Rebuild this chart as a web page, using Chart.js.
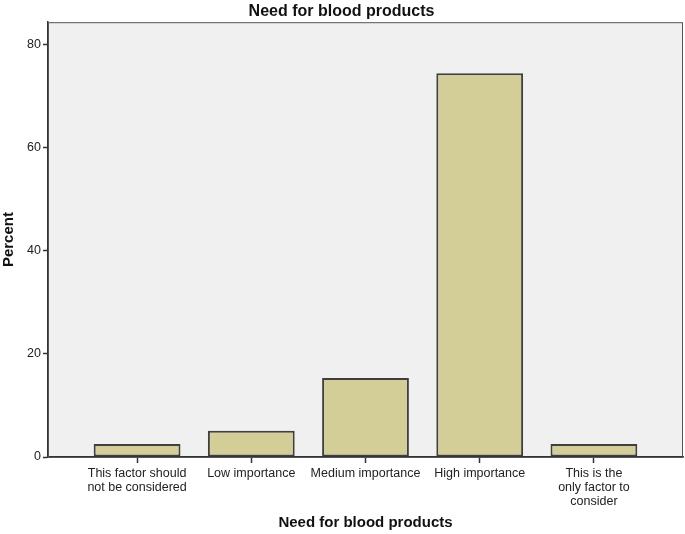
<!DOCTYPE html>
<html>
<head>
<meta charset="utf-8">
<script src="https://cdn.jsdelivr.net/npm/chart.js@4.4.1/dist/chart.umd.min.js"></script>
<style>
  html, body { margin: 0; padding: 0; background: #fff; }
  #wrap { width: 685px; height: 534px; }
</style>
</head>
<body>
<div id="wrap"><canvas id="chart" width="685" height="534"></canvas></div>
<script>
const categories = [
  ["This factor should", "not be considered"],
  ["Low importance"],
  ["Medium importance"],
  ["High importance"],
  ["This is the", "only factor to", "consider"],
];
const percents = [2.5, 5.1, 15.3, 74.4, 2.5];
const yTicks = [0, 20, 40, 60, 80];

// grey plot background and frame, like the SPSS output
const plotFrame = {
  id: "plotFrame",
  beforeDraw(chart) {
    const { ctx, chartArea: a } = chart;
    ctx.save();
    ctx.fillStyle = "#f0f0f0";
    ctx.fillRect(a.left, a.top, a.right - a.left, a.bottom - a.top);
    ctx.restore();
  },
  afterDraw(chart) {
    const { ctx, chartArea: a } = chart;
    ctx.save();
    ctx.strokeStyle = "#555";
    ctx.lineWidth = 1;
    ctx.strokeRect(a.left + 0.5, a.top + 0.5, a.right - a.left - 1, a.bottom - a.top);
    ctx.restore();
  },
};

const font = "'Liberation Sans', Arial, sans-serif";

new Chart(document.getElementById("chart"), {
  type: "bar",
  data: {
    datasets: [
      {
        label: "Percent",
        data: percents.map((v, i) => ({ x: i, y: v })),
        backgroundColor: "#d3ce97",
        borderColor: "#3f3f3f",
        borderWidth: 2,
        borderSkipped: false,
        barPercentage: 0.76,
        categoryPercentage: 1,
      },
    ],
  },
  options: {
    responsive: false,
    animation: false,
    layout: { padding: { right: 2, left: 0, top: 0, bottom: 0 } },
    plugins: {
      legend: { display: false },
      tooltip: { enabled: false },
      title: {
        display: true,
        text: "Need for blood products",
        color: "#111",
        font: { family: font, size: 16, weight: "bold" },
        padding: { top: 2, bottom: 1 },
      },
    },
    scales: {
      x: {
        type: "linear",
        offset: false,
        min: -0.78,
        max: 4.78,
        afterBuildTicks(scale) {
          scale.ticks = categories.map((c, i) => ({ value: i }));
        },
        afterFit(scale) {
          scale.height = 77;
        },
        ticks: {
          autoSkip: false,
          maxRotation: 0,
          padding: 3,
          color: "#222",
          font: { family: font, size: 12.5, lineHeight: 1.15 },
          callback: (v) => categories[v],
        },
        grid: {
          offset: false,
          drawOnChartArea: false,
          drawTicks: true,
          tickLength: 6,
          tickWidth: 1.5,
          color: "#333",
        },
        border: { color: "#333", width: 1.5 },
        title: {
          display: true,
          text: "Need for blood products",
          color: "#111",
          font: { family: font, size: 15, weight: "bold" },
          padding: { top: 0, bottom: 2 },
        },
      },
      y: {
        min: 0,
        max: 84.3,
        afterBuildTicks(scale) {
          scale.ticks = yTicks.map((v) => ({ value: v }));
        },
        afterFit(scale) {
          scale.width = 48;
        },
        ticks: {
          padding: 2,
          color: "#222",
          font: { family: font, size: 12.5 },
        },
        grid: {
          drawOnChartArea: false,
          drawTicks: true,
          tickLength: 5,
          tickWidth: 1.5,
          color: "#333",
        },
        border: { color: "#333", width: 1.5 },
        title: {
          display: true,
          text: "Percent",
          color: "#111",
          font: { family: font, size: 15, weight: "bold" },
          padding: { top: 0, bottom: 4 },
        },
      },
    },
  },
  plugins: [plotFrame],
});
</script>
</body>
</html>
